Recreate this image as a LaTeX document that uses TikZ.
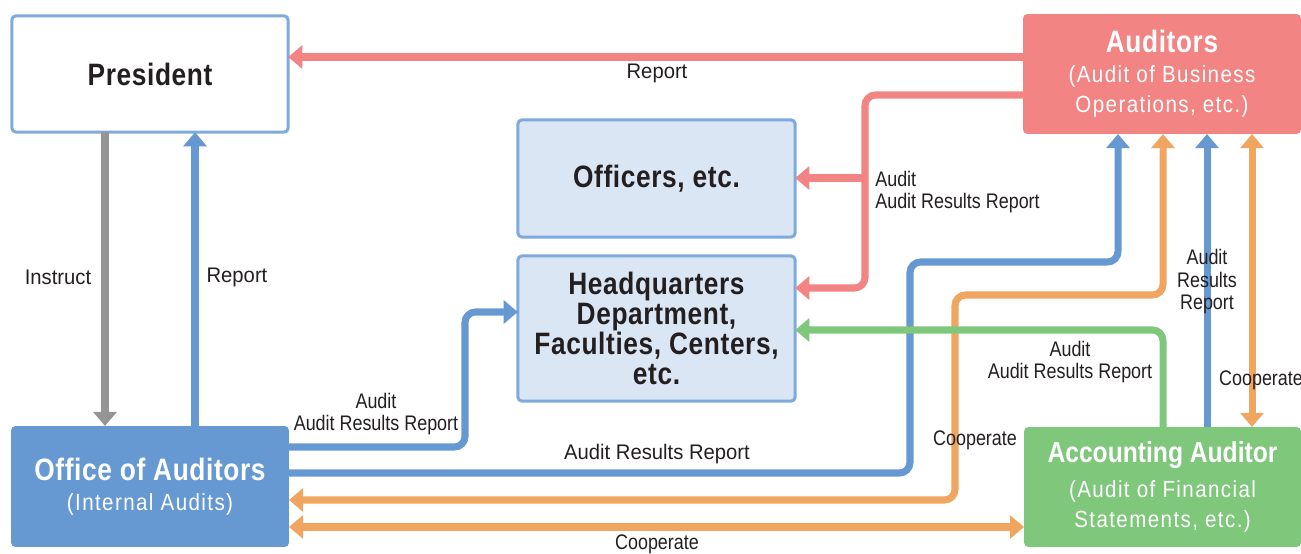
\documentclass[tikz,border=0pt]{standalone}
\usepackage{fontspec}
\setmainfont{Liberation Sans}[FakeStretch=0.85]
\newfontfamily\subfontfam{Liberation Sans}[FakeStretch=0.88,LetterSpace=6]
\newfontfamily\titfontfam{Liberation Sans}[FakeStretch=0.85,LetterSpace=2]
\newfontfamily\widefontfam{Liberation Sans}[FakeStretch=0.96]
\usetikzlibrary{arrows.meta}
\definecolor{cred}{HTML}{F28483}
\definecolor{cblue}{HTML}{6699D2}
\definecolor{cbord}{HTML}{7FAADC}
\definecolor{clight}{HTML}{DAE6F4}
\definecolor{corange}{HTML}{F0A660}
\definecolor{cgreen}{HTML}{7EC77B}
\definecolor{cgray}{HTML}{959595}
\definecolor{ctext}{HTML}{231F20}
\newcommand{\titfs}{\titfontfam\fontsize{17.6}{17}\selectfont\bfseries}
\newcommand{\subfs}{\subfontfam\fontsize{13.3}{17}\selectfont}
\begin{document}
\begin{tikzpicture}[x=0.02cm,y=-0.02cm,
  box/.style={rectangle, rounded corners=2.5pt, inner sep=0pt, outer sep=0pt, align=center, font=\fontsize{13.3}{17.2}\selectfont},
  lightbox/.style={box, draw=cbord, line width=1.7pt, text=ctext},
  solidbox/.style={box, text=white},
  conn/.style={line width=4pt, rounded corners=6pt},
  tip/.tip={Triangle[width=13pt,length=8pt]},
  arr/.style={conn, -tip},
  darr/.style={conn, tip-tip},
  lbl/.style={text=ctext, font=\fontsize{12}{12.8}\selectfont, inner sep=0pt, align=center},
  wlbl/.style={lbl, font=\widefontfam\fontsize{12}{12.8}\selectfont}
]
\useasboundingbox (0,0) rectangle (1301,554);

% boxes
\node[lightbox, fill=white, minimum width=5.53cm, minimum height=2.33cm] (pres) at (150,74) {\titfs President};
\node[solidbox, fill=cred, minimum width=5.56cm, minimum height=2.40cm] (aud) at (1162,74)
  {\titfs Auditors\\\subfs (Audit of Business\\\subfs Operations, etc.)};
\node[lightbox, fill=clight, minimum width=5.55cm, minimum height=2.35cm] (off) at (656.5,178.5) {\titfs Officers, etc.};
\node[lightbox, fill=clight, minimum width=5.55cm, minimum height=2.91cm] (hq) at (656.5,328.5)
  {\titfs Headquarters\\\titfs Department,\\\titfs Faculties, Centers,\\\titfs etc.};
\node[solidbox, fill=cblue, minimum width=5.56cm, minimum height=2.42cm] (oa) at (150,486.5)
  {\titfs Office of Auditors\\\subfs (Internal Audits)};
\node[solidbox, fill=cgreen, minimum width=5.54cm, minimum height=2.40cm] (acc) at (1162.5,487)
  {\fontsize{16.5}{17}\selectfont\bfseries Accounting Auditor\\[3pt]\subfs (Audit of Financial\\\subfs Statements, etc.)};

% red connectors
\draw[arr, cred] (aud.west |- 0,57) -- (pres.east |- 0,57);
\draw[arr, cred] (aud.west |- 0,95) -- (865,95) -- (865,288) -- (hq.east |- 0,288);
\coordinate (rbr) at (865,178);
\draw[arr, cred, rounded corners=0pt] (rbr) -- (off.east |- rbr);

% president <-> office
\draw[arr, cgray] (pres.south -| 105,0) -- (oa.north -| 105,0);
\draw[arr, cblue] (oa.north -| 195,0) -- (pres.south -| 195,0);

% office -> HQ
\draw[arr, cblue] (oa.east |- 0,447) -- (465,447) -- (465,312) -- (hq.west |- 0,312);
% office -> auditors
\draw[arr, cblue] (oa.east |- 0,473) -- (910,473) -- (910,262) -- (1118,262) -- (aud.south -| 1118,0);
% office <-> auditors cooperate
\draw[darr, corange] (oa.east |- 0,500) -- (955,500) -- (955,295) -- (1163,295) -- (aud.south -| 1163,0);
% office <-> accounting
\draw[darr, corange] (oa.east |- 0,527) -- (acc.west |- 0,527);
% accounting -> auditors
\draw[arr, cblue] (acc.north -| 1207,0) -- (aud.south -| 1207,0);
\draw[darr, corange] (aud.south -| 1252,0) -- (acc.north -| 1252,0);
% accounting -> HQ
\draw[arr, cgreen] (acc.north -| 1163,0) -- (1163,330) -- (hq.east |- 0,330);

% labels
\node[wlbl] (l1) at (657,73) {Report};
\node[lbl, anchor=west, align=left] (l2) at (875,192) {Audit\\Audit Results Report};
\node[wlbl] (l3) at (58,277) {Instruct};
\node[wlbl] (l4) at (237,277) {Report};
\node[lbl] (l5) at (376,414) {Audit\\Audit Results Report};
\node[wlbl] (l6) at (657,454) {Audit Results Report};
\node[lbl] (l7) at (975,440) {Cooperate};
\node[lbl] (l8) at (657,544) {Cooperate};
\node[lbl] (l9) at (1207,282) {Audit\\Results\\Report};
\node[lbl] (l10) at (1261,380) {Cooperate};
\node[lbl] (l11) at (1070,362) {Audit\\Audit Results Report};
\end{tikzpicture}
\end{document}
